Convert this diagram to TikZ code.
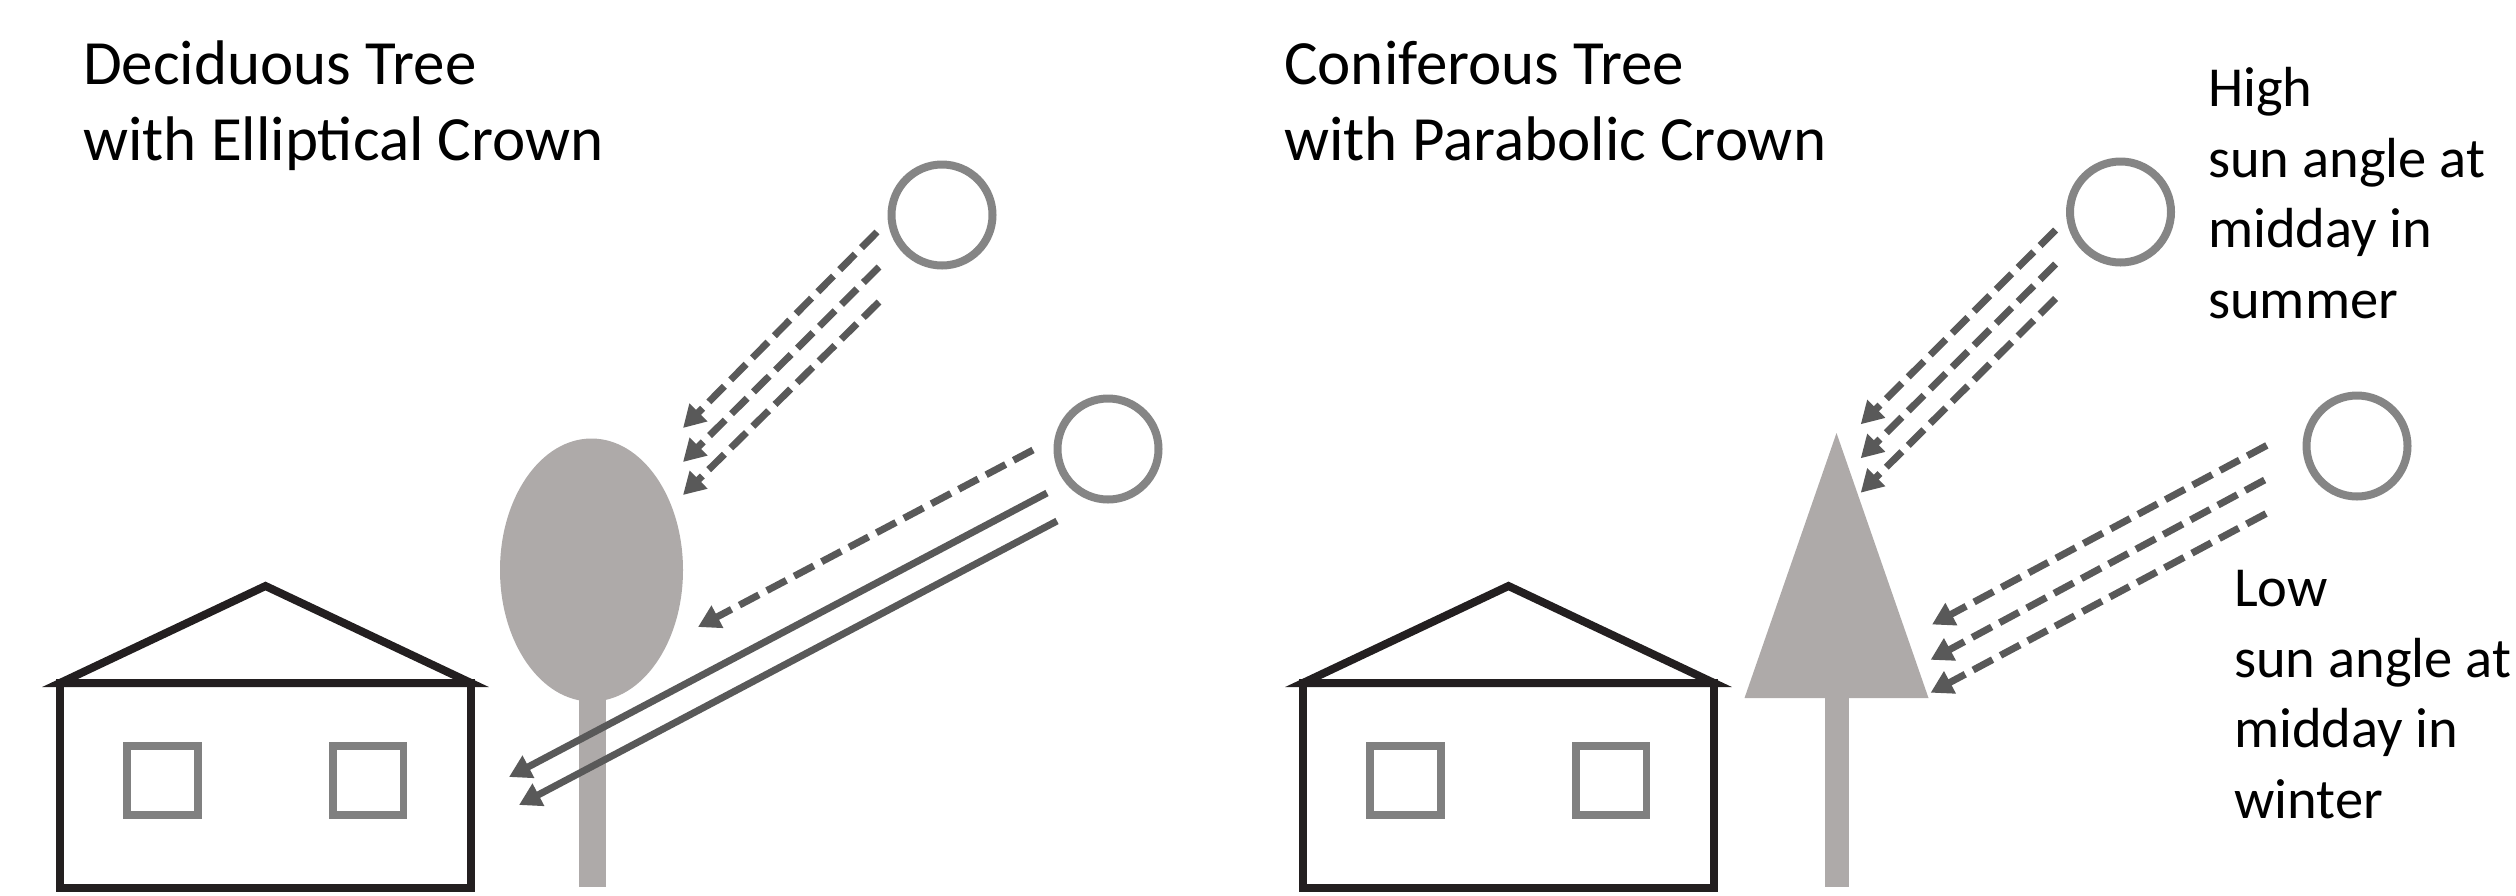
\documentclass[tikz,border=0pt]{standalone}
\usepackage{fontspec}
\setmainfont{Carlito}
\usetikzlibrary{arrows.meta}

\definecolor{housecol}{HTML}{231F20}
\definecolor{wincol}{HTML}{808080}
\definecolor{suncol}{HTML}{858585}
\definecolor{raycol}{HTML}{595959}
\definecolor{treecol}{HTML}{AEAAA9}

\tikzset{
  wall/.style={draw=housecol, line width=8pt, line join=miter, miter limit=20},
  window/.style={draw=wincol, line width=7.7pt},
  sun/.style={circle, draw=suncol, line width=8pt, minimum size=101pt, inner sep=0pt},
  crown/.style={fill=treecol, draw=none},
  ray/.style={draw=raycol, line width=7pt, -{Triangle[length=22pt,width=24pt]}},
  dashray/.style={ray, dash pattern=on 22pt off 9pt},
  % multi-line nodes: the base anchor sits on the last line
  heading/.style={anchor=base west, inner sep=0pt, align=left,
    font=\fontsize{63pt}{76.7pt}\selectfont},
  caption/.style={anchor=base west, inner sep=0pt, align=left,
    font=\fontsize{56.5pt}{70.5pt}\selectfont},
  house/.pic={
    \draw[wall] (0,0) rectangle (411,204.5);
    \draw[wall] (0,0) -- (205.5,-97) -- (411,0) -- cycle;
    \draw[window] (67.2,63.2) rectangle (137.8,132);
    \draw[window] (273,63.2) rectangle (343.5,132);
  }
}

\begin{document}
\begin{tikzpicture}[x=1pt,y=-1pt]
\useasboundingbox (0,0) rectangle (2516,895);
\clip (0,0) rectangle (2516,895);

% ---------- deciduous tree ----------
\node[heading] (titleL) at (83,160.7) {Deciduous Tree\\with Elliptical Crown};
\pic at (60,683) {house};
\fill[crown] (579,650) rectangle (606,887);
\fill[crown] (591.5,570) ellipse [x radius=91.5, y radius=131.5];

\node[sun] (sunHL) at (942,215) {};
\node[sun] (sunLL) at (1108,449) {};

\coordinate (hl1s) at (877,232);  \coordinate (hl1e) at (683,428);
\coordinate (hl2s) at (879,267);  \coordinate (hl2e) at (683,462);
\coordinate (hl3s) at (879,302);  \coordinate (hl3e) at (683,495);
\draw[dashray] (hl1s) -- (hl1e);
\draw[dashray] (hl2s) -- (hl2e);
\draw[dashray] (hl3s) -- (hl3e);

\coordinate (ll1s) at (1033,450); \coordinate (ll1e) at (698,627);
\coordinate (ll2s) at (1047,493); \coordinate (ll2e) at (509,777);
\coordinate (ll3s) at (1057,521); \coordinate (ll3e) at (519,805);
\draw[dashray] (ll1s) -- (ll1e);
\draw[ray] (ll2s) -- (ll2e);
\draw[ray] (ll3s) -- (ll3e);

% ---------- coniferous tree ----------
\node[heading] (titleR) at (1284,160.7) {Coniferous Tree\\with Parabolic Crown};
\pic at (1303,683) {house};
\fill[crown] (1825,690) rectangle (1849,887);
\fill[crown] (1836.5,433) -- (1928.5,698) -- (1744.5,698) -- cycle;

\node[sun] (sunHR) at (2120.5,212) {};
\node[sun] (sunLR) at (2357,446) {};

\coordinate (hr1s) at (2055.6,230);   \coordinate (hr1e) at (1860.7,424.3);
\coordinate (hr2s) at (2055.6,264);   \coordinate (hr2e) at (1860.7,458.3);
\coordinate (hr3s) at (2055.6,298.5); \coordinate (hr3e) at (1860.7,492.7);
\draw[dashray] (hr1s) -- (hr1e);
\draw[dashray] (hr2s) -- (hr2e);
\draw[dashray] (hr3s) -- (hr3e);

\coordinate (lr1s) at (2266.8,445.4); \coordinate (lr1e) at (1932,624.5);
\coordinate (lr2s) at (2264.6,480);   \coordinate (lr2e) at (1930.6,659.8);
\coordinate (lr3s) at (2266,513.6);   \coordinate (lr3e) at (1930.6,692.7);
\draw[dashray] (lr1s) -- (lr1e);
\draw[dashray] (lr2s) -- (lr2e);
\draw[dashray] (lr3s) -- (lr3e);

\node[caption] (highlbl) at (2208,318) {High\\sun angle at\\midday in\\summer};
\node[caption] (lowlbl) at (2234,818) {Low\\sun angle at\\midday in\\winter};
\end{tikzpicture}
\end{document}
